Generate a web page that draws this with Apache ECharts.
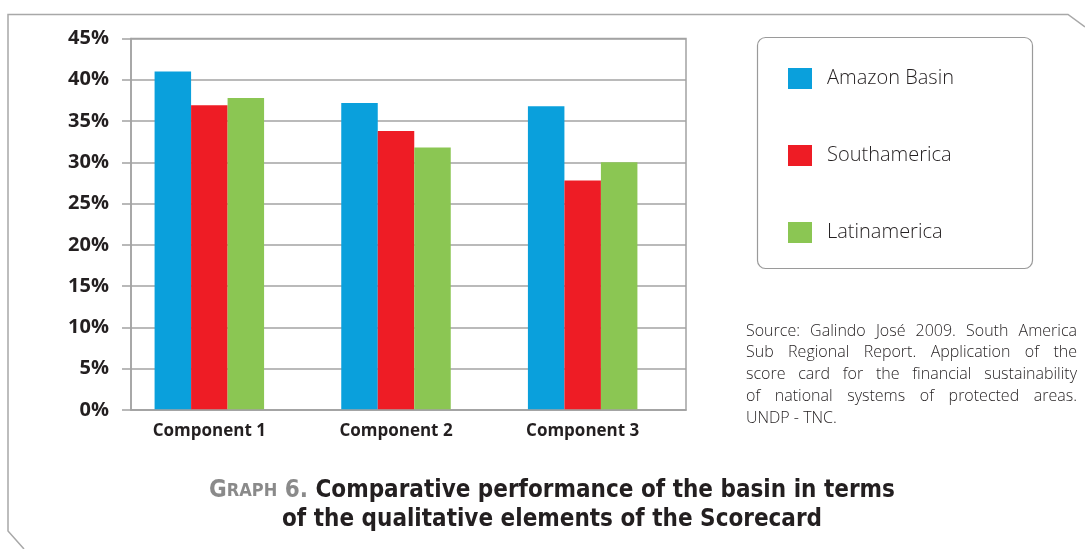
<!DOCTYPE html>
<html>
<head>
<meta charset="utf-8">
<script src="https://cdn.jsdelivr.net/npm/echarts@6/dist/echarts.min.js"></script>
<style>
  html, body { margin: 0; padding: 0; background: #ffffff; }
  #chart { width: 1085px; height: 549px; }
</style>
</head>
<body>
<div id="chart"></div>
<script>
// Scorecard components and the share reached by each region (%)
const categories = ['Component 1', 'Component 2', 'Component 3'];
const seriesNames = ['Amazon Basin', 'Southamerica', 'Latinamerica'];
const amazonBasin = [41.0, 37.2, 36.8];
const southamerica = [36.9, 33.8, 27.8];
const latinamerica = [37.8, 31.8, 30.0];
const seriesColors = ['#0aa0dc', '#ee1c25', '#8bc653'];

// Value axis range
const yMin = 0, yMax = 45, yStep = 5;

const sourceLines = [
  'Source: Galindo José 2009. South America',
  'Sub Regional Report. Application of the',
  'score card for the financial sustainability',
  'of national systems of protected areas.',
  'UNDP - TNC.'
];
const captionLabel = ['G', 'RAPH', ' 6. '];
const captionLines = [
  'Comparative performance of the basin in terms',
  'of the qualitative elements of the Scorecard'
];

const INK = '#231f20';
const RULE = '#a3a3a3';
const LIGHT_FONT = '"Open Sans", "Noto Sans", sans-serif';
const BOLD_FONT = '"Open Sans", "Noto Sans", sans-serif';
const COND_FONT = '"Liberation Sans Narrow", "DejaVu Sans Condensed", "Open Sans", sans-serif';

// Justified block of text: words spread across a fixed width
function justifiedText(lines, x, y0, width, lineHeight, font, color) {
  const ctx = document.createElement('canvas').getContext('2d');
  ctx.font = font;
  const out = [];
  lines.forEach((line, i) => {
    const y = y0 + i * lineHeight;
    const words = line.split(' ');
    const last = i === lines.length - 1;
    if (last || words.length < 2) {
      out.push({ type: 'text', silent: true, x: x, y: y,
        style: { text: line, font: font, fill: color, textVerticalAlign: 'middle' } });
      return;
    }
    const total = words.reduce((s, w) => s + ctx.measureText(w).width, 0);
    const gap = (width - total) / (words.length - 1);
    let cx = x;
    words.forEach(w => {
      out.push({ type: 'text', silent: true, x: cx, y: y,
        style: { text: w, font: font, fill: color, textVerticalAlign: 'middle' } });
      cx += ctx.measureText(w).width + gap;
    });
  });
  return out;
}

const chart = echarts.init(document.getElementById('chart'), null, { renderer: 'canvas' });

// grid 0: framed plot area with the percentage axis and rules
// grid 1: the category band that carries the bars (same vertical scale)
const plotTop = 38.5, plotBottom = 139;

const barSeries = [amazonBasin, southamerica, latinamerica].map((data, i) => ({
  name: seriesNames[i],
  type: 'bar',
  xAxisIndex: 1,
  yAxisIndex: 1,
  data: data,
  barWidth: 36.5,
  barGap: '0%',
  itemStyle: { color: seriesColors[i] },
  emphasis: { disabled: true },
  z: 3
}));

const sourceFont = '300 16px ' + LIGHT_FONT;

chart.setOption({
  backgroundColor: '#ffffff',
  animation: false,
  grid: [
    { left: 131, right: 399, top: plotTop, bottom: plotBottom,
      show: true, borderColor: RULE, borderWidth: 1.5, backgroundColor: 'transparent' },
    { left: 116, right: 409, top: plotTop, bottom: plotBottom }
  ],
  legend: {
    orient: 'vertical',
    left: 783, top: 63,
    itemWidth: 24, itemHeight: 21, itemGap: 56,
    icon: 'rect',
    selectedMode: false,
    textStyle: { fontFamily: LIGHT_FONT, fontWeight: 300, fontSize: 20, color: INK, padding: [0, 0, 0, 10] },
    data: seriesNames
  },
  xAxis: [
    { type: 'category', gridIndex: 0, data: categories,
      axisLine: { show: true, lineStyle: { color: RULE, width: 1.5 } },
      axisTick: { show: false }, axisLabel: { show: false }, z: 4 },
    { type: 'category', gridIndex: 1, data: categories,
      axisLine: { show: false }, axisTick: { show: false },
      axisLabel: { fontFamily: BOLD_FONT, fontWeight: 'bold', fontSize: 17, color: INK, margin: 13 } }
  ],
  yAxis: [
    { type: 'value', gridIndex: 0,
      min: yMin, max: yMax, interval: yStep,
      axisLine: { show: true, lineStyle: { color: RULE, width: 1.5 } },
      axisTick: { show: true, length: 9, lineStyle: { color: RULE, width: 1.5 } },
      splitLine: { show: true, lineStyle: { color: RULE, width: 1.5 } },
      axisLabel: { formatter: '{value}%', fontFamily: BOLD_FONT, fontWeight: 'bold', fontSize: 20, color: INK, margin: 22 } },
    { type: 'value', gridIndex: 1,
      min: yMin, max: yMax, interval: yStep,
      axisLine: { show: false }, axisTick: { show: false },
      splitLine: { show: false }, axisLabel: { show: false } }
  ],
  series: barSeries,
  graphic: [
    // page frame with clipped corners
    { type: 'polyline', silent: true,
      shape: { points: [[24, 549], [8, 531], [8, 14.5], [1068, 14.5], [1085, 27]] },
      style: { stroke: '#a8a8a8', lineWidth: 1.5, fill: null } },
    // legend box
    { type: 'rect', silent: true,
      shape: { x: 757.5, y: 37.5, width: 275, height: 231, r: 8 },
      style: { stroke: '#9a9a9a', lineWidth: 1.2, fill: null } },
    ...justifiedText(sourceLines, 746, 331, 331, 21.8, sourceFont, INK),
    // caption
    { type: 'text', silent: true, x: 552, y: 491,
      style: {
        text: '{g|' + captionLabel[0] + '}{s|' + captionLabel[1] + '}{n|' + captionLabel[2] + '}{b|' + captionLines[0] + '}',
        align: 'center', verticalAlign: 'middle',
        rich: {
          g: { font: 'bold 24px ' + COND_FONT, fill: '#8a8a8a' },
          s: { font: 'bold 18px ' + COND_FONT, fill: '#8a8a8a' },
          n: { font: 'bold 24px ' + COND_FONT, fill: '#8a8a8a' },
          b: { font: 'bold 24px ' + COND_FONT, fill: INK }
        }
      } },
    { type: 'text', silent: true, x: 552, y: 520,
      style: { text: captionLines[1], font: 'bold 24px ' + COND_FONT, fill: INK, align: 'center', verticalAlign: 'middle' } }
  ]
});
</script>
</body>
</html>
